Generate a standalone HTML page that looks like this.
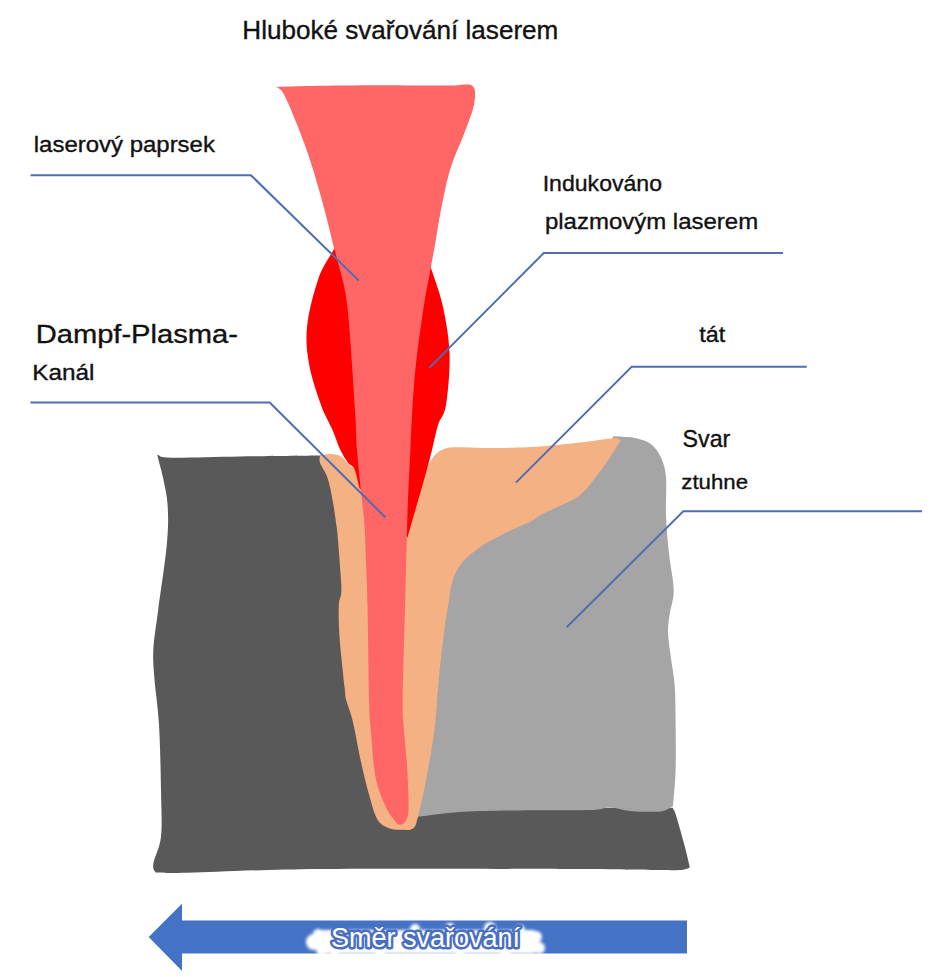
<!DOCTYPE html>
<html><head><meta charset="utf-8">
<style>
html,body{margin:0;padding:0;background:#fff;}
body{width:942px;height:977px;overflow:hidden;position:relative;}
svg{position:absolute;left:0;top:0;}
text{font-family:"Liberation Sans",sans-serif;fill:#111;stroke:#111;stroke-width:0.35px;}
</style></head><body>
<svg width="942" height="977" viewBox="0 0 942 977">
<defs><filter id="blur" x="-20%" y="-50%" width="140%" height="200%"><feGaussianBlur stdDeviation="1.8"/></filter></defs>
<path fill="#595959" d="M157.2,454.8 C161.7,455.8 156.8,457.4 170.6,457.7 C184.4,458.0 215.1,456.9 240.0,456.5 C264.9,456.1 304.0,455.7 320.0,455.5 C336.0,455.3 330.7,455.5 336.0,455.5 C339.3,470.3 342.7,485.2 346.0,500.0 C347.3,533.3 348.7,566.7 350.0,600.0 C353.3,633.3 356.7,666.7 360.0,700.0 C365.0,720.0 370.0,740.0 375.0,760.0 C381.7,773.3 388.3,786.7 395.0,800.0 C406.7,802.7 418.3,805.3 430.0,808.0 C510.9,807.9 591.8,807.9 672.7,807.8 C674.0,811.0 674.1,808.7 676.6,817.3 C679.1,825.9 686.4,850.8 688.0,859.4 C689.6,868.0 691.4,867.2 686.0,869.0 C680.6,870.8 676.5,869.9 655.5,869.9 C634.5,869.9 615.9,869.1 560.0,869.0 C504.1,868.9 382.0,868.4 320.0,869.0 C258.0,869.6 214.5,872.1 187.8,872.7 C161.1,873.3 165.4,872.6 160.0,872.5 C154.6,872.4 156.4,873.3 155.3,871.8 C154.2,870.2 152.5,869.1 153.4,863.2 C154.3,857.3 159.7,848.6 161.0,836.4 C162.3,824.2 161.3,808.6 161.0,790.0 C160.7,771.4 160.1,743.5 159.0,724.7 C157.9,705.9 155.2,689.8 154.3,677.0 C153.4,664.2 152.8,659.4 153.4,648.2 C154.1,637.0 156.0,627.2 158.2,610.0 C160.4,592.8 165.2,562.0 166.8,544.7 C168.4,527.4 168.3,517.5 167.7,506.4 C167.1,495.2 164.8,486.4 163.0,477.8 C161.2,469.2 159.1,462.5 157.2,454.8Z"/>
<path fill="#a5a5a5" d="M613.3,436.3 C621.0,436.9 630.0,436.8 636.4,438.2 C642.8,439.6 647.6,441.5 651.7,444.8 C655.9,448.1 658.9,452.8 661.3,458.2 C663.7,463.6 665.2,467.8 666.0,477.3 C666.8,486.9 665.5,502.8 666.0,515.5 C666.5,528.2 667.7,541.4 669.0,553.8 C670.3,566.2 673.6,580.1 673.7,590.0 C673.9,599.9 670.9,606.0 669.9,613.0 C668.9,620.0 667.9,624.7 668.0,632.0 C668.1,639.3 669.7,648.0 670.8,656.9 C671.9,665.8 673.9,674.4 674.7,685.5 C675.5,696.6 675.5,709.7 675.6,723.8 C675.8,737.9 676.0,756.3 675.6,770.0 C675.2,783.7 673.9,794.0 673.0,806.0 C670.3,807.5 668.0,809.5 665.0,810.5 C662.0,811.5 660.6,811.7 654.8,811.8 C649.0,811.9 637.5,811.7 630.0,811.0 C622.5,810.3 616.5,807.7 610.0,807.5 C603.5,807.3 604.8,809.5 591.0,810.0 C577.2,810.5 548.6,810.0 527.4,810.3 C506.2,810.6 481.8,810.8 463.7,811.8 C445.6,812.8 433.9,815.0 419.0,816.6 C414.3,817.7 409.7,818.9 405.0,820.0 C410.0,793.3 415.0,766.7 420.0,740.0 C423.3,721.3 426.7,702.7 430.0,684.0 C432.0,665.0 434.0,646.0 436.0,627.0 C438.0,614.7 440.0,602.3 442.0,590.0 C444.7,580.0 447.3,570.0 450.0,560.0 C456.7,553.3 463.3,546.7 470.0,540.0 C486.7,531.7 503.3,523.3 520.0,515.0 C533.3,509.3 546.7,503.7 560.0,498.0 C570.0,491.3 580.0,484.7 590.0,478.0 C596.7,467.0 603.3,456.0 610.0,445.0 C611.1,442.1 612.2,439.2 613.3,436.3Z"/>
<path fill="#f4b183" d="M320.0,455.8 C322.9,455.2 325.3,453.9 328.7,453.9 C332.1,453.9 336.9,454.2 340.1,455.8 C343.3,457.4 345.6,461.3 347.8,463.4 C350.0,465.5 351.6,466.6 353.5,468.2 C369.0,472.1 384.5,476.1 400.0,480.0 C406.0,485.0 412.0,490.0 418.0,495.0 C420.3,487.3 423.0,477.5 425.0,472.0 C427.0,466.5 428.2,465.0 430.0,462.0 C431.8,459.0 433.7,456.2 436.0,454.0 C438.3,451.8 440.8,450.1 444.0,449.0 C447.2,447.9 448.2,447.5 455.0,447.3 C461.8,447.1 476.1,447.9 485.0,448.0 C493.9,448.1 498.0,448.2 508.2,447.8 C518.4,447.4 533.6,446.9 546.4,445.9 C559.1,444.9 573.6,443.3 584.7,442.0 C595.9,440.7 607.2,438.5 613.3,438.2 C619.3,437.9 618.4,439.4 621.0,440.0 C616.5,447.0 612.2,454.3 607.6,461.0 C603.0,467.7 597.2,475.1 593.4,480.0 C589.6,484.9 588.2,487.4 585.0,490.6 C581.8,493.8 578.7,496.5 574.3,499.1 C569.9,501.8 563.7,504.0 558.4,506.5 C553.1,509.0 547.2,511.4 542.5,514.0 C537.8,516.6 534.6,519.7 530.0,522.1 C525.4,524.5 520.9,525.7 514.9,528.5 C508.8,531.3 499.9,535.7 493.7,539.1 C487.5,542.5 482.8,545.2 477.8,548.7 C472.9,552.2 467.7,556.2 464.0,560.3 C460.3,564.4 457.6,568.9 455.5,573.1 C453.4,577.4 452.3,581.3 451.2,585.8 C450.1,590.3 450.2,593.1 449.1,600.0 C448.0,606.9 446.4,614.0 444.7,627.3 C443.0,640.6 440.4,663.0 438.7,680.0 C437.0,697.0 436.7,712.6 434.6,729.0 C432.6,745.4 429.1,763.7 426.4,778.2 C423.7,792.7 420.4,807.6 418.2,815.9 C416.0,824.2 416.0,825.9 413.3,828.2 C410.6,830.5 406.0,829.8 401.9,829.8 C397.8,829.8 392.9,830.0 388.8,828.2 C384.7,826.4 380.6,824.8 377.3,819.2 C374.0,813.6 371.7,804.2 369.0,794.6 C366.3,785.0 363.7,774.2 361.0,761.9 C358.3,749.6 355.2,731.2 352.7,720.9 C350.2,710.6 347.5,705.6 346.2,700.0 C344.9,694.4 345.7,697.6 344.6,687.3 C343.5,677.0 340.6,651.8 339.6,638.2 C338.6,624.6 338.5,613.1 338.8,605.5 C339.1,597.9 341.0,597.9 341.3,592.4 C341.6,586.9 341.1,581.4 340.5,572.7 C339.9,564.0 338.6,547.7 338.0,540.0 C337.4,532.3 337.5,532.9 336.6,526.4 C335.7,519.9 334.2,509.1 332.7,501.0 C331.2,492.9 329.7,484.4 327.6,478.0 C325.5,471.6 321.3,466.4 320.0,462.7 C318.7,459.0 320.0,458.1 320.0,455.8Z"/>
<path fill="#ff0000" d="M334.4,248.3 C329.2,258.1 323.2,264.9 318.7,277.8 C314.2,290.7 308.8,311.2 307.2,325.5 C305.6,339.8 306.7,350.6 309.0,363.8 C311.3,377.1 317.1,394.0 321.0,405.0 C324.9,416.0 329.3,422.5 332.5,430.0 C335.7,437.5 337.8,444.6 340.4,450.0 C343.0,455.4 345.7,459.5 348.0,462.7 C350.3,465.9 352.5,464.8 354.4,469.0 C356.3,473.2 357.8,481.8 359.5,488.2 C375.4,504.8 391.4,521.3 407.3,537.9 C412.9,518.6 419.9,494.6 424.0,480.0 C428.1,465.4 429.7,459.2 432.0,450.0 C434.3,440.8 435.7,432.5 438.0,425.0 C440.3,417.5 444.1,416.8 446.0,405.0 C447.9,393.2 450.1,370.6 449.6,354.2 C449.1,337.8 446.1,321.0 442.9,306.4 C439.7,291.8 434.6,279.7 430.4,266.3 C398.4,260.3 366.4,254.3 334.4,248.3Z"/>
<path fill="#ff6666" d="M275.5,86.8 C287.6,86.5 294.0,86.2 311.7,85.9 C329.4,85.6 359.2,85.2 381.8,85.2 C404.4,85.2 433.0,85.7 447.0,85.6 C461.0,85.5 461.5,84.4 465.8,84.5 C470.1,84.6 471.2,84.8 472.8,86.3 C474.4,87.8 475.1,90.0 475.2,93.4 C475.3,96.9 474.6,102.3 473.5,107.0 C472.4,111.7 470.7,116.0 468.7,121.5 C466.7,127.0 464.0,134.1 461.6,140.1 C459.2,146.1 456.5,151.6 454.4,157.3 C452.2,163.0 450.4,168.5 448.7,174.5 C447.0,180.5 445.8,186.4 444.4,193.1 C443.0,199.8 441.5,206.8 440.1,214.6 C438.7,222.4 437.2,231.7 435.8,240.0 C434.4,248.3 433.4,253.3 431.4,264.4 C429.4,275.5 426.4,289.8 423.8,306.4 C421.2,323.0 417.9,346.5 416.0,363.8 C414.1,381.1 413.2,395.6 412.3,410.0 C411.4,424.4 411.1,434.8 410.4,450.0 C409.7,465.2 408.5,486.0 407.9,501.0 C407.3,516.0 407.3,522.6 406.8,540.0 C406.3,557.4 405.8,578.8 405.1,605.5 C404.4,632.2 402.9,679.2 402.7,700.0 C402.5,720.8 403.3,719.7 404.0,730.0 C404.7,740.3 406.1,751.9 406.8,761.9 C407.5,771.9 407.9,781.6 408.2,790.0 C408.5,798.4 408.9,806.7 408.4,812.0 C407.9,817.3 406.6,819.9 405.0,822.0 C403.4,824.1 400.8,825.3 398.6,824.5 C396.4,823.7 394.2,820.1 392.0,817.0 C389.8,813.9 388.2,812.5 385.5,806.0 C382.8,799.5 378.1,790.8 375.7,778.0 C373.2,765.2 371.9,742.0 370.8,729.0 C369.7,716.0 369.7,720.6 369.1,700.0 C368.6,679.4 368.0,628.8 367.5,605.5 C367.0,582.2 366.4,573.2 365.9,560.0 C365.4,546.8 365.2,536.2 364.6,526.4 C364.0,516.6 363.3,513.7 362.0,501.0 C360.7,488.3 358.2,465.2 357.0,450.0 C355.8,434.8 356.6,434.0 355.0,410.0 C353.4,386.0 350.2,331.0 347.3,306.0 C344.4,281.0 339.6,270.0 337.3,260.0 C335.0,250.0 335.1,252.5 333.5,246.0 C331.9,239.5 329.5,229.2 327.4,221.0 C325.3,212.8 323.3,205.2 320.9,196.5 C318.4,187.8 315.4,177.3 312.7,168.6 C310.0,159.8 307.2,151.6 304.5,144.0 C301.8,136.4 299.0,129.6 296.3,122.8 C293.6,116.0 290.4,108.2 288.1,103.1 C285.8,98.0 284.1,94.5 282.5,92.0 C280.9,89.5 279.7,88.9 278.5,88.0 C277.3,87.1 276.5,87.2 275.5,86.8Z"/>
<g stroke="#506db2" stroke-width="2" fill="none">
<polyline points="30.6,175.2 250.9,175.2 358.8,280.6"/>
<polyline points="783,253 543.8,253 429.5,367.6"/>
<polyline points="30.4,402.6 269.7,402.6 385.5,517.5"/>
<polyline points="806.8,366.7 631.7,366.7 515.9,482.6"/>
<polyline points="922,511.3 683.3,511.3 566.7,627.3"/>
</g>
<path fill="#4472c4" d="M148.7,936.9 L182,903.8 L182,920.5 L687,920.5 L687,953.5 L182,953.5 L182,970.9 Z"/>
<text transform="translate(242.29,38.6) scale(0.984,1)" font-size="26.52">Hluboké svařování laserem</text>
<text transform="translate(33.76,152.4) scale(1.093,1)" font-size="21.93">laserový paprsek</text>
<text transform="translate(542.68,190.5) scale(1.008,1)" font-size="22.9">Indukováno</text>
<text transform="translate(544.93,228.7) scale(1.048,1)" font-size="22.9">plazmovým laserem</text>
<text transform="translate(35.73,342.6) scale(1.098,1)" font-size="26.52">Dampf-Plasma-</text>
<text transform="translate(32.3,380) scale(1.084,1)" font-size="22.46">Kanál</text>
<text transform="translate(699.33,341.8) scale(1.085,1)" font-size="21.5">tát</text>
<text transform="translate(682.57,446.8) scale(0.986,1)" font-size="23.57">Svar</text>
<text transform="translate(681.31,488.9) scale(1.053,1)" font-size="21.1">ztuhne</text>
<g fill="#fff" filter="url(#blur)">
<circle cx="314" cy="942" r="8"/><circle cx="318" cy="934" r="5"/><circle cx="322" cy="950" r="6"/>
<rect x="318" y="930" width="218" height="24" rx="4"/>
<circle cx="415" cy="929" r="5"/><circle cx="450" cy="928" r="5"/><circle cx="490" cy="928" r="6"/><circle cx="520" cy="930" r="5"/>
<circle cx="335" cy="954" r="4"/><circle cx="380" cy="955" r="5"/><circle cx="460" cy="954" r="4"/><circle cx="505" cy="954" r="5"/>
<circle cx="536" cy="937" r="6"/><circle cx="539" cy="948" r="6"/>
</g>
<text x="331" y="947" font-size="27" style="fill:#fff;stroke:#4a6fc0;stroke-width:5px;paint-order:stroke;stroke-linejoin:round">Směr svařování</text>
</svg>
</body></html>
